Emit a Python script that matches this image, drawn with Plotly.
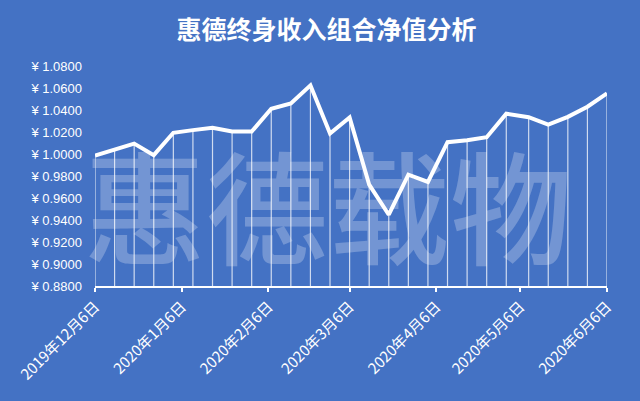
import plotly.graph_objects as go

dates = ["2019-12-06", "2019-12-13", "2019-12-20", "2019-12-27", "2020-01-03",
         "2020-01-10", "2020-01-17", "2020-01-24", "2020-01-31", "2020-02-07",
         "2020-02-14", "2020-02-21", "2020-02-28", "2020-03-06", "2020-03-13",
         "2020-03-20", "2020-03-27", "2020-04-03", "2020-04-10", "2020-04-17",
         "2020-04-24", "2020-05-01", "2020-05-09", "2020-05-16", "2020-05-23",
         "2020-05-30", "2020-06-06"]
nav = [0.9986, 1.0040, 1.0095, 0.9990, 1.0193,
       1.0217, 1.0238, 1.0204, 1.0204, 1.0411,
       1.0460, 1.0624, 1.0186, 1.0332, 0.9721,
       0.9448, 0.9812, 0.9746, 1.0107, 1.0125,
       1.0153, 1.0366, 1.0335, 1.0268, 1.0338,
       1.0430, 1.0551]

x_tick_vals = ["2019-12-06", "2020-01-06", "2020-02-06", "2020-03-06",
               "2020-04-06", "2020-05-06", "2020-06-06"]
x_tick_text = ["2019年12月6日", "2020年1月6日", "2020年2月6日", "2020年3月6日",
               "2020年4月6日", "2020年5月6日", "2020年6月6日"]
y_min, y_max, y_step = 0.88, 1.08, 0.02

title_text = "惠德终身收入组合净值分析"
watermark_text = "惠德载物"

bg = "#4472C4"
drop = [v - y_min for v in nav]

fig = go.Figure()
fig.add_trace(go.Scatter(
    x=dates, y=nav, mode="lines",
    line=dict(color="white", width=4),
    error_y=dict(type="data", symmetric=False, array=[0] * len(nav),
                 arrayminus=drop, width=0, thickness=1.2,
                 color="rgba(255,255,255,0.75)"),
    hoverinfo="x+y", showlegend=False,
))

fig.add_annotation(
    text=watermark_text, xref="paper", yref="paper", x=0.455, y=0.385,
    showarrow=False,
    font=dict(family="Noto Sans CJK SC", size=122, color="rgba(255,255,255,0.25)", weight=500),
)

fig.update_layout(
    width=640, height=401,
    paper_bgcolor=bg, plot_bgcolor=bg,
    margin=dict(l=95, r=33, t=66, b=115),
    title=dict(text=title_text, x=0.51, xanchor="center", y=0.925, yanchor="middle",
               font=dict(family="Noto Sans CJK SC", size=25, color="white", weight="bold")),
    xaxis=dict(
        type="date", range=["2019-12-06", "2020-06-06"],
        tickvals=x_tick_vals, ticktext=x_tick_text, tickangle=-45,
        showgrid=False, zeroline=False,
        showline=True, linecolor="white", linewidth=2,
        ticks="outside", ticklen=4, tickcolor="white", tickwidth=2,
        tickfont=dict(family="Noto Sans CJK SC", size=15, color="white"),
    ),
    yaxis=dict(
        range=[y_min, y_max], dtick=y_step, tick0=y_min,
        tickprefix="¥ ", tickformat=".4f",
        showgrid=False, zeroline=False, showline=False, ticks="",
        ticklabelstandoff=12,
        tickfont=dict(family="Liberation Sans", size=13, color="white"),
    ),
)

fig.write_html("out.html", config={"displayModeBar": False},
               post_script="document.body.style.margin='0';")
